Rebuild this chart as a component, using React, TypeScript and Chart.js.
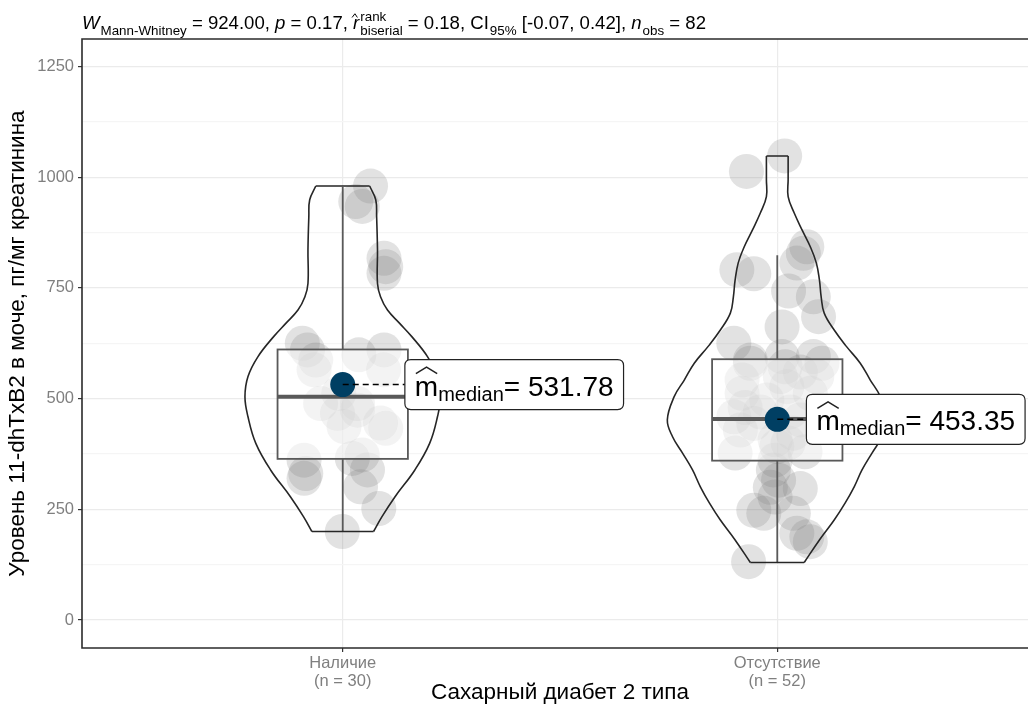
import React, { useEffect, useRef } from 'react';
import { Chart, registerables } from 'chart.js';

Chart.register(...registerables);

const FONT = '"Liberation Sans", Arial, Helvetica, sans-serif';

const categories = ['Наличие', 'Отсутствие'];
const groupCounts = [30, 52];
const xTitle = 'Сахарный диабет 2 типа';
const yTitle = 'Уровень 11-dhTxB2 в моче, пг/мг креатинина';
const yMajorTicks = [0, 250, 500, 750, 1000, 1250];
const yMinorTicks = [125, 375, 625, 875, 1125];
const yRange = [-63, 1312];
const xRange = [0.4, 2.6];

// jittered observations
const nalValues = [980, 945, 934, 817, 798, 783, 625, 610, 587, 599, 610, 565, 489, 512, 489, 437, 433, 445, 361, 331, 320, 365, 373, 301, 252, 200, 474, 467, 565, 339];
const nalJitter = [0.064, 0.03, 0.045, 0.095, 0.099, 0.095, -0.093, -0.081, -0.062, 0.037, 0.095, 0.094, -0.051, -0.009, 0.034, 0.003, 0.099, 0.087, -0.089, -0.085, -0.089, 0.022, 0.045, 0.041, 0.083, -0.001, 0.034, -0.012, -0.066, 0.057];
const otsValues = [1048, 1013, 828, 843, 806, 791, 782, 743, 730, 685, 662, 625, 587, 595, 595, 550, 542, 512, 550, 527, 497, 459, 429, 444, 452, 422, 377, 407, 380, 361, 339, 316, 297, 248, 241, 278, 241, 196, 188, 177, 132, 512, 572, 470, 470, 480, 560, 580, 400, 300, 580, 392];
const otsJitter = [0.017, -0.071, 0.06, 0.068, 0.045, -0.093, -0.054, 0.026, 0.083, 0.095, 0.011, -0.1, -0.062, 0.011, 0.083, 0.091, -0.081, -0.081, 0.007, 0.022, -0.024, -0.1, -0.085, -0.054, 0.053, 0.037, -0.097, -0.005, 0.064, -0.005, -0.009, 0.003, 0.053, -0.054, -0.031, -0.005, 0.037, 0.045, 0.068, 0.076, -0.066, 0.076, 0.018, -0.039, 0.03, -0.074, 0.053, -0.062, 0.025, -0.016, 0.103, -0.001];

// box plot statistics
const boxLower = [364, 360];
const boxMedian = [504, 454];
const boxUpper = [611, 589];
const whiskerLow = [200, 129];
const whiskerHigh = [978, 824];
const centralValues = [531.78, 453.35];
const centralLabels = ['531.78', '453.35'];

// violin outlines: value levels and half-widths (category units)
const nalViolinY = [980, 949, 911, 836, 760, 730, 700, 670, 640, 595, 550, 504, 459, 399, 339, 278, 233, 200];
const nalViolinW = [0.062, 0.076, 0.078, 0.08, 0.08, 0.087, 0.103, 0.131, 0.159, 0.195, 0.218, 0.225, 0.218, 0.2, 0.166, 0.12, 0.09, 0.071];
const otsViolinY = [1048, 994, 956, 919, 881, 843, 806, 768, 730, 693, 655, 618, 580, 542, 505, 452, 414, 377, 339, 301, 264, 226, 181, 130];
const otsViolinW = [0.025, 0.025, 0.025, 0.039, 0.057, 0.076, 0.09, 0.097, 0.101, 0.108, 0.131, 0.159, 0.191, 0.214, 0.237, 0.253, 0.241, 0.218, 0.195, 0.177, 0.156, 0.131, 0.097, 0.062];

// test statistics
const statW = '924.00';
const statP = '0.17';
const statR = '0.18';
const ciLow = '-0.07';
const ciHigh = '0.42';
const nObs = 82;

const BOX_HALF = 0.15;
const LABEL_OFFSET = [0.143, 0.067];

function violinSets(cx: number, ys: number[], ws: number[]) {
  const n = ys.length - 1;
  const left = ys.map((v, i) => ({ x: cx - ws[i], y: v }));
  const right = ys.map((v, i) => ({ x: cx + ws[i], y: v }));
  const caps = [
    { x: cx - ws[0], y: ys[0] },
    { x: cx + ws[0], y: ys[0] },
    { x: cx, y: null },
    { x: cx - ws[n], y: ys[n] },
    { x: cx + ws[n], y: ys[n] },
  ];
  return [left, right, caps].map((data, k) => ({
    type: 'line',
    data,
    borderColor: '#262626',
    borderWidth: 1.6,
    pointRadius: 0,
    tension: k < 2 ? 0.4 : 0,
    fill: false,
    spanGaps: false,
    order: 1,
  }));
}

type Part = { t: string; k: string; sup?: string; sub?: string };

function subtitleParts(): Part[] {
  return [
    { t: 'W', k: 'i' },
    { t: 'Mann-Whitney', k: 'sub' },
    { t: ` = ${statW}, `, k: 'n' },
    { t: 'p', k: 'i' },
    { t: ` = ${statP}, `, k: 'n' },
    { t: 'r', k: 'hat', sup: 'rank', sub: 'biserial' },
    { t: ` = ${statR}, CI`, k: 'n' },
    { t: '95%', k: 'sub' },
    { t: ` [${ciLow}, ${ciHigh}], `, k: 'n' },
    { t: 'n', k: 'i' },
    { t: 'obs', k: 'sub' },
    { t: ` = ${nObs}`, k: 'n' },
  ];
}

function layoutSubtitle(ctx: CanvasRenderingContext2D, f: number, x0: number, base: number, draw: boolean) {
  const s = f * 0.72;
  let x = x0;
  ctx.fillStyle = '#000';
  ctx.textBaseline = 'alphabetic';
  ctx.textAlign = 'left';
  for (const p of subtitleParts()) {
    if (p.k === 'n' || p.k === 'i') {
      ctx.font = `${p.k === 'i' ? 'italic ' : ''}${f}px ${FONT}`;
      if (draw) ctx.fillText(p.t, x, base);
      x += ctx.measureText(p.t).width;
    } else if (p.k === 'sub') {
      ctx.font = `${s}px ${FONT}`;
      if (draw) ctx.fillText(p.t, x + 1, base + f * 0.3);
      x += ctx.measureText(p.t).width + 1;
    } else if (p.k === 'hat') {
      ctx.font = `italic ${f}px ${FONT}`;
      const wr = ctx.measureText(p.t).width;
      if (draw) {
        ctx.fillText(p.t, x, base);
        ctx.save();
        ctx.strokeStyle = '#000';
        ctx.lineWidth = 1;
        ctx.beginPath();
        ctx.moveTo(x - 1, base - f * 0.62);
        ctx.lineTo(x + wr * 0.3, base - f * 0.82);
        ctx.lineTo(x + wr * 0.7, base - f * 0.62);
        ctx.stroke();
        ctx.restore();
      }
      x += wr;
      ctx.font = `${s}px ${FONT}`;
      const w1 = ctx.measureText(p.sup || '').width;
      const w2 = ctx.measureText(p.sub || '').width;
      if (draw) {
        ctx.fillText(p.sup || '', x + 1, base - f * 0.42);
        ctx.fillText(p.sub || '', x + 1, base + f * 0.3);
      }
      x += Math.max(w1, w2) + 1;
    }
  }
  return x - x0;
}

function drawSubtitle(chart: any) {
  const ctx = chart.ctx as CanvasRenderingContext2D;
  const area = chart.chartArea;
  ctx.save();
  const f0 = 16;
  const w0 = layoutSubtitle(ctx, f0, area.left, 0, false);
  const f = (f0 * 625) / w0;
  layoutSubtitle(ctx, f, area.left, 29, true);
  ctx.restore();
}

function drawBoxes(chart: any) {
  const { ctx } = chart;
  const xs = chart.scales.x;
  const ys = chart.scales.y;
  ctx.save();
  for (let i = 0; i < categories.length; i++) {
    const c = i + 1;
    const xl = xs.getPixelForValue(c - BOX_HALF);
    const xr = xs.getPixelForValue(c + BOX_HALF);
    const xc = xs.getPixelForValue(c);
    const yq1 = ys.getPixelForValue(boxLower[i]);
    const yq3 = ys.getPixelForValue(boxUpper[i]);
    const ymed = ys.getPixelForValue(boxMedian[i]);
    ctx.strokeStyle = '#595959';
    ctx.lineWidth = 1.8;
    ctx.beginPath();
    ctx.moveTo(xc, ys.getPixelForValue(whiskerHigh[i]));
    ctx.lineTo(xc, yq3);
    ctx.moveTo(xc, yq1);
    ctx.lineTo(xc, ys.getPixelForValue(whiskerLow[i]));
    ctx.stroke();
    ctx.fillStyle = 'rgba(255,255,255,0.6)';
    ctx.fillRect(xl, yq3, xr - xl, yq1 - yq3);
    ctx.strokeRect(xl, yq3, xr - xl, yq1 - yq3);
    ctx.lineWidth = 4;
    ctx.beginPath();
    ctx.moveTo(xl, ymed);
    ctx.lineTo(xr, ymed);
    ctx.stroke();
  }
  ctx.restore();
}

function roundRect(ctx: CanvasRenderingContext2D, x: number, y: number, w: number, h: number, r: number) {
  ctx.beginPath();
  ctx.moveTo(x + r, y);
  ctx.lineTo(x + w - r, y);
  ctx.quadraticCurveTo(x + w, y, x + w, y + r);
  ctx.lineTo(x + w, y + h - r);
  ctx.quadraticCurveTo(x + w, y + h, x + w - r, y + h);
  ctx.lineTo(x + r, y + h);
  ctx.quadraticCurveTo(x, y + h, x, y + h - r);
  ctx.lineTo(x, y + r);
  ctx.quadraticCurveTo(x, y, x + r, y);
  ctx.closePath();
}

function drawLabels(chart: any) {
  const ctx = chart.ctx as CanvasRenderingContext2D;
  const xs = chart.scales.x;
  const ys = chart.scales.y;
  ctx.save();
  const big = `28px ${FONT}`;
  const small = `20px ${FONT}`;
  for (let i = 0; i < categories.length; i++) {
    const px = xs.getPixelForValue(i + 1);
    const py = ys.getPixelForValue(centralValues[i]);
    const left = xs.getPixelForValue(i + 1 + LABEL_OFFSET[i]);
    ctx.strokeStyle = '#000';
    ctx.lineWidth = 1.5;
    ctx.setLineDash([6, 4]);
    ctx.beginPath();
    ctx.moveTo(px, py);
    ctx.lineTo(left, py);
    ctx.stroke();
    ctx.setLineDash([]);

    ctx.font = big;
    const wm = ctx.measureText('m').width;
    const valText = '= ' + centralLabels[i];
    const wv = ctx.measureText(valText).width;
    ctx.font = small;
    const ws = ctx.measureText('median').width;
    const pad = 10;
    const w = pad * 2 + wm + ws + wv;
    const h = 50;
    const top = py - h / 2;
    roundRect(ctx, left, top, w, h, 6);
    ctx.fillStyle = '#fff';
    ctx.fill();
    ctx.strokeStyle = '#222';
    ctx.lineWidth = 1.2;
    ctx.stroke();

    const base = top + 36;
    ctx.fillStyle = '#000';
    ctx.textBaseline = 'alphabetic';
    ctx.textAlign = 'left';
    ctx.font = big;
    ctx.fillText('m', left + pad, base);
    ctx.lineWidth = 1.5;
    ctx.beginPath();
    ctx.moveTo(left + pad + 1, base - 22);
    ctx.lineTo(left + pad + wm / 2, base - 28.5);
    ctx.lineTo(left + pad + wm - 1, base - 22);
    ctx.stroke();
    ctx.font = small;
    ctx.fillText('median', left + pad + wm, base + 5);
    ctx.font = big;
    ctx.fillText(valText, left + pad + wm + ws, base);
  }
  ctx.restore();
}

function drawPanelBorder(chart: any) {
  const ctx = chart.ctx as CanvasRenderingContext2D;
  const a = chart.chartArea;
  ctx.save();
  ctx.strokeStyle = '#2b2b2b';
  ctx.lineWidth = 1.6;
  ctx.beginPath();
  ctx.moveTo(chart.width, a.top);
  ctx.lineTo(a.left, a.top);
  ctx.lineTo(a.left, a.bottom);
  ctx.lineTo(chart.width, a.bottom);
  ctx.stroke();
  ctx.restore();
}

const overlayPlugin = {
  id: 'statsOverlay',
  afterDatasetDraw(chart: any, args: any) {
    if (args.index === 0) drawBoxes(chart);
  },
  afterDatasetsDraw(chart: any) {
    drawLabels(chart);
  },
  afterDraw(chart: any) {
    drawPanelBorder(chart);
    drawSubtitle(chart);
  },
};

export default function App() {
  const ref = useRef<HTMLCanvasElement | null>(null);

  useEffect(() => {
    if (!ref.current) return;
    const points = [
      ...nalValues.map((v, i) => ({ x: 1 + nalJitter[i], y: v })),
      ...otsValues.map((v, i) => ({ x: 2 + otsJitter[i], y: v })),
    ];
    const datasets: any[] = [
      {
        type: 'scatter',
        data: points,
        pointRadius: 17.5,
        pointHoverRadius: 17.5,
        backgroundColor: 'rgba(125,125,125,0.22)',
        borderWidth: 0,
        order: 2,
      },
      ...violinSets(1, nalViolinY, nalViolinW),
      ...violinSets(2, otsViolinY, otsViolinW),
      {
        type: 'scatter',
        data: centralValues.map((v, i) => ({ x: i + 1, y: v })),
        pointRadius: 12.5,
        backgroundColor: '#003f63',
        borderWidth: 0,
        order: 0,
      },
    ];
    const allY = [...yMajorTicks, ...yMinorTicks].sort((a, b) => a - b);
    const chart = new Chart(ref.current, {
      type: 'scatter',
      data: { datasets },
      plugins: [overlayPlugin],
      options: {
        responsive: false,
        animation: false,
        devicePixelRatio: 1,
        events: [],
        layout: { padding: { top: 39, right: 22, left: 0, bottom: 0 } },
        plugins: {
          legend: { display: false },
          tooltip: { enabled: false },
        },
        scales: {
          x: {
            type: 'linear',
            min: xRange[0],
            max: xRange[1],
            afterBuildTicks: (s: any) => {
              s.ticks = categories.map((_, i) => ({ value: i + 1 }));
            },
            afterFit: (s: any) => {
              s.height = 56;
            },
            ticks: {
              autoSkip: false,
              maxRotation: 0,
              padding: 3,
              color: '#7f7f7f',
              font: { size: 16.5, family: FONT, lineHeight: 1.05 },
              callback: (v: any) => {
                const i = Math.round(Number(v)) - 1;
                return [categories[i], `(n = ${groupCounts[i]})`];
              },
            },
            grid: { color: '#ebebeb', lineWidth: 1.2, tickColor: '#333', tickLength: 4 },
            border: { display: false },
            title: {
              display: true,
              text: xTitle,
              color: '#000',
              font: { size: 22.5, family: FONT, lineHeight: 1.0 },
              padding: { top: 0, bottom: 0 },
            },
          },
          y: {
            type: 'linear',
            min: yRange[0],
            max: yRange[1],
            afterBuildTicks: (s: any) => {
              s.ticks = allY.map((v) => ({ value: v }));
            },
            afterFit: (s: any) => {
              s.width = 82;
            },
            ticks: {
              autoSkip: false,
              padding: 4,
              color: '#7f7f7f',
              font: { size: 16.5, family: FONT },
              callback: (v: any) => (yMajorTicks.includes(Number(v)) ? String(v) : ''),
            },
            grid: {
              color: (c: any) => (yMajorTicks.includes(c.tick?.value) ? '#ebebeb' : '#f5f5f5'),
              lineWidth: 1.2,
              tickColor: (c: any) => (yMajorTicks.includes(c.tick?.value) ? '#333' : 'rgba(0,0,0,0)'),
              tickLength: 4,
            },
            border: { display: false },
            title: {
              display: true,
              text: yTitle,
              color: '#000',
              font: { size: 22.5, family: FONT, lineHeight: 1.0 },
              padding: { top: 7, bottom: 0 },
            },
          },
        },
      } as any,
    } as any);
    return () => chart.destroy();
  }, []);

  return (
    <div
      style={{
        position: 'fixed',
        left: 0,
        top: 0,
        width: 1028,
        height: 704,
        overflow: 'hidden',
        background: '#fff',
      }}
    >
      <canvas ref={ref} width={1060} height={704} style={{ display: 'block', width: 1060, height: 704 }} />
    </div>
  );
}
